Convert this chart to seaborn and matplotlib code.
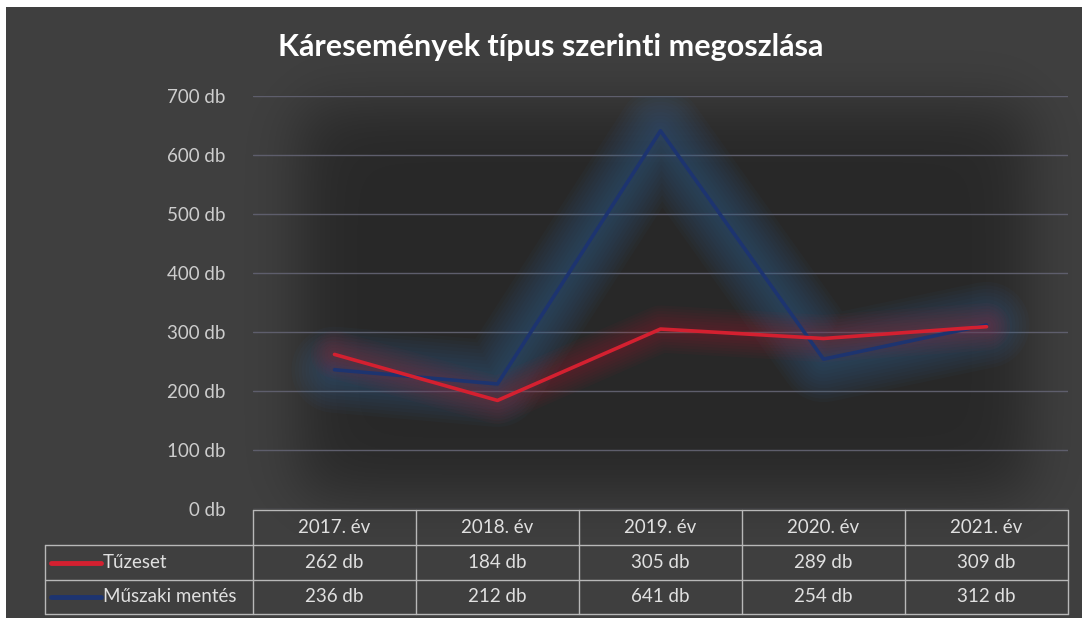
import numpy as np
import pandas as pd
import matplotlib
matplotlib.use("Agg")
import matplotlib.pyplot as plt
import seaborn as sns

# ---- data ----
years = ["2017. év", "2018. év", "2019. év", "2020. év", "2021. év"]
tuzeset = [262, 184, 305, 289, 309]
muszaki = [236, 212, 641, 254, 312]
series_names = ["Tűzeset", "Műszaki mentés"]
yticks = [0, 100, 200, 300, 400, 500, 600, 700]
title = "Káresemények típus szerinti megoszlása"

sns.set_theme(style="dark")
plt.rcParams["font.family"] = ["Lato", "DejaVu Sans"]

W, H = 1082, 618
fig = plt.figure(figsize=(W / 100, H / 100), dpi=100, facecolor="white")

def fx(px):
    return px / W

def fy(py):
    return 1 - py / H

# background panel with darker vignette in the middle
bg = fig.add_axes([fx(6), 0, fx(W - 6), fy(7)])
bg.set_xlim(6, W)
bg.set_ylim(H, 7)
bg.axis("off")
xx, yy = np.meshgrid(np.linspace(6, W, 400), np.linspace(7, H, 240))

def soft(v, a, b, s):
    return 1 / (1 + np.exp(-(v - a) / s)) * 1 / (1 + np.exp((v - b) / s))

dark = soft(xx, 300, 1030, 18) * soft(yy, 105, 495, 18)
outer = np.array([64, 64, 64]) / 255
inner = np.array([40, 40, 40]) / 255
img = outer[None, None, :] * (1 - dark[..., None]) + inner[None, None, :] * dark[..., None]
bg.imshow(img, extent=[6, W, H, 7], aspect="auto", interpolation="bilinear")

# title
fig.text(fx(551), fy(47), title, ha="center", va="center", color="white",
         fontsize=22, fontweight="bold")

# main axes
x0, x1, ytop, ybot = 253, 1068, 96, 509
ax = fig.add_axes([fx(x0), fy(ybot), fx(x1 - x0), (ybot - ytop) / H])
ax.set_facecolor("none")
pos = np.arange(len(years))
df = pd.DataFrame({"pos": np.concatenate([pos, pos]),
                   "val": tuzeset + muszaki,
                   "series": [series_names[0]] * 5 + [series_names[1]] * 5})

ax.set_xlim(-0.5, len(years) - 0.5)
ax.set_ylim(0, 700)
ax.set_yticks(yticks)
ax.set_yticklabels([f"{v} db" for v in yticks], color="#cdcdcd", fontsize=13.5)
ax.tick_params(axis="y", length=0, pad=20)
ax.set_xticks([])
ax.grid(axis="y", color="#5e5e6c", linewidth=1.0)
ax.grid(axis="x", visible=False)
for s in ax.spines.values():
    s.set_visible(False)

glow_specs = {
    series_names[0]: ("#b8202c", "#d42030", list(range(34, 4, -4)), 0.045),
    series_names[1]: ("#34608f", "#1d3470", list(range(62, 4, -5)), 0.055),
}
for name in [series_names[1], series_names[0]]:
    gcol, lcol, widths, a = glow_specs[name]
    sub = df[df.series == name]
    for lw in widths:
        sns.lineplot(data=sub, x="pos", y="val", ax=ax, color=gcol, lw=lw, alpha=a,
                     solid_joinstyle="round", solid_capstyle="round", legend=False)
for name in [series_names[1], series_names[0]]:
    gcol, lcol, widths, a = glow_specs[name]
    sub = df[df.series == name]
    sns.lineplot(data=sub, x="pos", y="val", ax=ax, color=lcol, lw=2.6, legend=False)
ax.set_xlabel("")
ax.set_ylabel("")

# data table
tab = fig.add_axes([0, 0, 1, 1])
tab.set_xlim(0, W)
tab.set_ylim(H, 0)
tab.axis("off")
lc = "#b8b8b8"
row_y = [510, 545, 580, 614]
col_x = [x0 + i * (x1 - x0) / len(years) for i in range(len(years) + 1)]
leg_x = 45
tab.plot([x0, x1], [row_y[0], row_y[0]], color=lc, lw=1)
for yv in row_y[1:]:
    tab.plot([leg_x, x1], [yv, yv], color=lc, lw=1)
for xv in col_x:
    tab.plot([xv, xv], [row_y[0], row_y[-1]], color=lc, lw=1)
tab.plot([leg_x, leg_x], [row_y[1], row_y[-1]], color=lc, lw=1)
tc = "#e0e0e0"
for i, yr in enumerate(years):
    cx = (col_x[i] + col_x[i + 1]) / 2
    tab.text(cx, (row_y[0] + row_y[1]) / 2, yr, ha="center", va="center", color=tc, fontsize=13.5)
    tab.text(cx, (row_y[1] + row_y[2]) / 2, f"{tuzeset[i]} db", ha="center", va="center", color=tc, fontsize=13.5)
    tab.text(cx, (row_y[2] + row_y[3]) / 2, f"{muszaki[i]} db", ha="center", va="center", color=tc, fontsize=13.5)
leg_cols = ["#d42030", "#1d3470"]
for r, name in enumerate(series_names):
    cy = (row_y[r + 1] + row_y[r + 2]) / 2
    tab.plot([51, 101], [cy, cy], color=leg_cols[r], lw=3.5, solid_capstyle="round")
    tab.text(103, cy, name, ha="left", va="center", color=tc, fontsize=13.5)

fig.savefig("out.png", dpi=100, facecolor=fig.get_facecolor())
